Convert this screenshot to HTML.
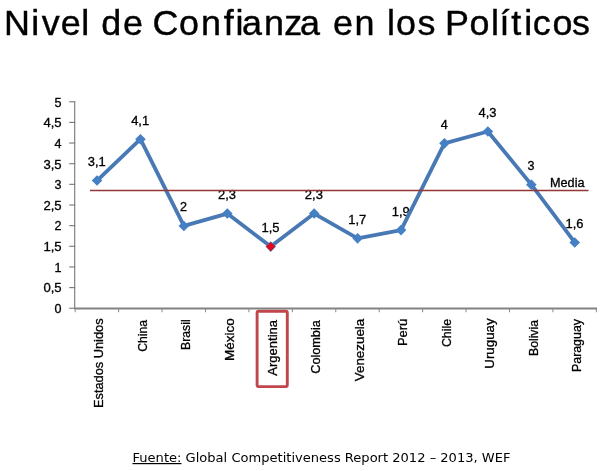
<!DOCTYPE html><html><head><meta charset="utf-8"><style>html,body{margin:0;padding:0;background:#fff}svg{display:block}text{font-family:"Liberation Sans","DejaVu Sans",sans-serif;fill:#000}.c text{stroke:#000;stroke-width:.3px}.f{font-family:"DejaVu Sans","Liberation Sans",sans-serif}</style></head><body>
<svg width="600" height="471" viewBox="0 0 600 471">
<rect width="600" height="471" fill="#fff"/>
<text transform="translate(0,34.6) scale(1.0408,1)" font-size="34.5" stroke="#000" stroke-width="0.4" x="3.84 29.98 40.23 58.41 78.01 85.51 97.19 118.12 137.68 146.53 172.07 193.16 215.01 226.31 232.53 253.73 273.02 288.25 307.73 319.98 340.63 359.80 371.72 380.50 401.07 417.45 427.47 451.07 471.78 480.04 491.13 503.82 511.76 530.77 549.60" y="0">Nivel de Confianza en los Políticos</text>
<g class="c">
<g stroke="#7c7c7c" stroke-width="1.15" fill="none">
<path d="M74.7 101.25 V308.75"/>
<path d="M74.2 308.55 H597" stroke-width="2.1" stroke="#828282"/>
<path d="M69.2 308.25 H75.2"/>
<path d="M69.2 287.60 H75.2"/>
<path d="M69.2 266.95 H75.2"/>
<path d="M69.2 246.30 H75.2"/>
<path d="M69.2 225.65 H75.2"/>
<path d="M69.2 205.00 H75.2"/>
<path d="M69.2 184.35 H75.2"/>
<path d="M69.2 163.70 H75.2"/>
<path d="M69.2 143.05 H75.2"/>
<path d="M69.2 122.40 H75.2"/>
<path d="M69.2 101.75 H75.2"/>
<path d="M75.20 308.25 V312.25" stroke="#8a8a8a" stroke-width="1"/>
<path d="M118.63 308.25 V312.25" stroke="#8a8a8a" stroke-width="1"/>
<path d="M162.06 308.25 V312.25" stroke="#8a8a8a" stroke-width="1"/>
<path d="M205.49 308.25 V312.25" stroke="#8a8a8a" stroke-width="1"/>
<path d="M248.92 308.25 V312.25" stroke="#8a8a8a" stroke-width="1"/>
<path d="M292.35 308.25 V312.25" stroke="#8a8a8a" stroke-width="1"/>
<path d="M335.78 308.25 V312.25" stroke="#8a8a8a" stroke-width="1"/>
<path d="M379.21 308.25 V312.25" stroke="#8a8a8a" stroke-width="1"/>
<path d="M422.64 308.25 V312.25" stroke="#8a8a8a" stroke-width="1"/>
<path d="M466.07 308.25 V312.25" stroke="#8a8a8a" stroke-width="1"/>
<path d="M509.50 308.25 V312.25" stroke="#8a8a8a" stroke-width="1"/>
<path d="M552.93 308.25 V312.25" stroke="#8a8a8a" stroke-width="1"/>
<path d="M596.36 308.25 V312.25" stroke="#8a8a8a" stroke-width="1"/>
</g>
<text x="54.5" y="313.05" font-size="12" textLength="7" lengthAdjust="spacingAndGlyphs">0</text>
<text x="43.4" y="292.40" font-size="12" textLength="18.2" lengthAdjust="spacingAndGlyphs">0,5</text>
<text x="54.5" y="271.75" font-size="12" textLength="7" lengthAdjust="spacingAndGlyphs">1</text>
<text x="43.4" y="251.10" font-size="12" textLength="18.2" lengthAdjust="spacingAndGlyphs">1,5</text>
<text x="54.5" y="230.45" font-size="12" textLength="7" lengthAdjust="spacingAndGlyphs">2</text>
<text x="43.4" y="209.80" font-size="12" textLength="18.2" lengthAdjust="spacingAndGlyphs">2,5</text>
<text x="54.5" y="189.15" font-size="12" textLength="7" lengthAdjust="spacingAndGlyphs">3</text>
<text x="43.4" y="168.50" font-size="12" textLength="18.2" lengthAdjust="spacingAndGlyphs">3,5</text>
<text x="54.5" y="147.85" font-size="12" textLength="7" lengthAdjust="spacingAndGlyphs">4</text>
<text x="43.4" y="127.20" font-size="12" textLength="18.2" lengthAdjust="spacingAndGlyphs">4,5</text>
<text x="54.5" y="106.55" font-size="12" textLength="7" lengthAdjust="spacingAndGlyphs">5</text>
<text x="550" y="186.8" font-size="12" textLength="34.5" lengthAdjust="spacingAndGlyphs">Media</text>
<g transform="translate(0.1,0.3)">
<text x="87.62" y="165.72" font-size="12" textLength="18" lengthAdjust="spacingAndGlyphs">3,1</text>
<text x="131.04" y="124.42" font-size="12" textLength="18" lengthAdjust="spacingAndGlyphs">4,1</text>
<text x="179.97" y="211.15" font-size="12" textLength="7" lengthAdjust="spacingAndGlyphs">2</text>
<text x="217.90" y="198.76" font-size="12" textLength="18" lengthAdjust="spacingAndGlyphs">2,3</text>
<text x="261.33" y="231.80" font-size="12" textLength="18" lengthAdjust="spacingAndGlyphs">1,5</text>
<text x="304.76" y="198.76" font-size="12" textLength="18" lengthAdjust="spacingAndGlyphs">2,3</text>
<text x="348.19" y="223.54" font-size="12" textLength="18" lengthAdjust="spacingAndGlyphs">1,7</text>
<text x="391.62" y="215.28" font-size="12" textLength="18" lengthAdjust="spacingAndGlyphs">1,9</text>
<text x="440.55" y="128.55" font-size="12" textLength="7" lengthAdjust="spacingAndGlyphs">4</text>
<text x="478.48" y="116.70" font-size="12" textLength="18" lengthAdjust="spacingAndGlyphs">4,3</text>
<text x="527.42" y="169.85" font-size="12" textLength="7" lengthAdjust="spacingAndGlyphs">3</text>
<text x="565.35" y="227.67" font-size="12" textLength="18" lengthAdjust="spacingAndGlyphs">1,6</text>
<polyline points="96.92,180.22 140.34,138.92 183.78,225.65 227.20,213.26 270.63,246.30 314.06,213.26 357.50,238.04 400.93,229.78 444.35,143.05 487.78,131.20 531.22,184.35 574.64,242.17" fill="none" stroke="#4979b4" stroke-width="3.8" stroke-linejoin="round" stroke-linecap="round"/>
<path d="M96.92 174.92 L102.22 180.22 L96.92 185.52 L91.62 180.22Z" fill="#457fc4"/>
<path d="M140.34 133.62 L145.65 138.92 L140.34 144.22 L135.04 138.92Z" fill="#457fc4"/>
<path d="M183.78 220.35 L189.08 225.65 L183.78 230.95 L178.47 225.65Z" fill="#457fc4"/>
<path d="M227.20 207.96 L232.50 213.26 L227.20 218.56 L221.90 213.26Z" fill="#457fc4"/>
<path d="M270.63 241.00 L275.94 246.30 L270.63 251.60 L265.33 246.30Z" fill="#457fc4"/>
<path d="M270.63 241.70 L275.24 246.30 L270.63 250.90 L266.03 246.30Z" fill="#e2071f"/>
<path d="M314.06 207.96 L319.37 213.26 L314.06 218.56 L308.76 213.26Z" fill="#457fc4"/>
<path d="M357.50 232.74 L362.80 238.04 L357.50 243.34 L352.19 238.04Z" fill="#457fc4"/>
<path d="M400.93 224.48 L406.23 229.78 L400.93 235.08 L395.62 229.78Z" fill="#457fc4"/>
<path d="M444.35 137.75 L449.65 143.05 L444.35 148.35 L439.05 143.05Z" fill="#457fc4"/>
<path d="M487.78 125.90 L493.08 131.20 L487.78 136.50 L482.48 131.20Z" fill="#457fc4"/>
<path d="M531.22 179.05 L536.51 184.35 L531.22 189.65 L525.92 184.35Z" fill="#457fc4"/>
<path d="M574.64 236.87 L579.94 242.17 L574.64 247.47 L569.35 242.17Z" fill="#457fc4"/>
</g>
<path d="M90 190.5 H588.5" stroke="#953735" stroke-width="1.4" fill="none"/>
<text transform="translate(103.32,408.00) rotate(-90)" font-size="12.5" textLength="89.57" lengthAdjust="spacingAndGlyphs">Estados Unidos</text>
<text transform="translate(146.75,351.78) rotate(-90)" font-size="12.5" textLength="31.78" lengthAdjust="spacingAndGlyphs">China</text>
<text transform="translate(190.18,350.00) rotate(-90)" font-size="12.5" textLength="30.65" lengthAdjust="spacingAndGlyphs">Brasil</text>
<text transform="translate(233.60,361.00) rotate(-90)" font-size="12.5" textLength="42.78" lengthAdjust="spacingAndGlyphs">México</text>
<text transform="translate(277.03,375.70) rotate(-90)" font-size="12.5" textLength="55.70" lengthAdjust="spacingAndGlyphs">Argentina</text>
<text transform="translate(320.46,373.75) rotate(-90)" font-size="12.5" textLength="53.52" lengthAdjust="spacingAndGlyphs">Colombia</text>
<text transform="translate(363.89,381.20) rotate(-90)" font-size="12.5" textLength="62.43" lengthAdjust="spacingAndGlyphs">Venezuela</text>
<text transform="translate(407.32,346.00) rotate(-90)" font-size="12.5" textLength="27.00" lengthAdjust="spacingAndGlyphs">Perú</text>
<text transform="translate(450.75,347.00) rotate(-90)" font-size="12.5" textLength="28.00" lengthAdjust="spacingAndGlyphs">Chile</text>
<text transform="translate(494.18,368.75) rotate(-90)" font-size="12.5" textLength="50.38" lengthAdjust="spacingAndGlyphs">Uruguay</text>
<text transform="translate(537.62,356.00) rotate(-90)" font-size="12.5" textLength="36.00" lengthAdjust="spacingAndGlyphs">Bolivia</text>
<text transform="translate(581.04,372.00) rotate(-90)" font-size="12.5" textLength="52.95" lengthAdjust="spacingAndGlyphs">Paraguay</text>
<rect x="257.1" y="311.3" width="30.2" height="75.3" fill="none" stroke="#bf474c" stroke-width="2.9" rx="1.5"/>
</g>
<text class="f" x="132.5" y="462" font-size="12" textLength="378" lengthAdjust="spacingAndGlyphs"><tspan text-decoration="underline">Fuente:</tspan> Global Competitiveness Report 2012 – 2013, WEF</text>
</svg></body></html>
